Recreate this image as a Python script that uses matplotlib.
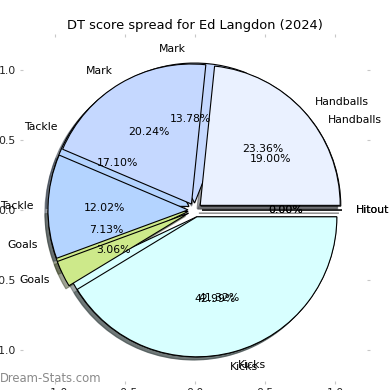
import matplotlib
matplotlib.use("Agg")
import matplotlib.pyplot as plt

# DT score components, share of total (%)
labels = ['Hitout', 'Handballs', 'Mark', 'Tackle', 'Goals', 'Kicks']
spread_under = [0.00, 19.00, 13.78, 17.10, 7.13, 42.99]
spread_over = [0.00, 23.36, 20.24, 12.02, 3.06, 41.32]
colors = ['#f2f2f2', '#eaf1ff', '#c5d8ff', '#b4d4ff', '#cde98a', '#d8ffff']
ticks = [-1.0, -0.5, 0.0, 0.5, 1.0]

fs = 7.8
plt.rcParams['font.size'] = fs

fig = plt.figure(figsize=(3.9, 3.9), dpi=100)
ax = fig.add_axes([23 / 390, 9 / 390, 344 / 390, 344 / 390])

# Pie parameters shared by both pies
pieParams = {'labels': labels,
             'colors': colors,
             'autopct': '%1.2f%%',
             'explode': [0.05] * len(labels),
             'shadow': {'ox': -0.016, 'oy': -0.016},
             'frame': True,
             'wedgeprops': {'edgecolor': 'black', 'linewidth': 0.8},
             'textprops': {'fontsize': fs}}

ax.pie(spread_under, **pieParams)
ax.pie(spread_over, **pieParams)

ax.set_aspect('auto')
ax.set_xlim(-1.2286, 1.2286)
ax.set_ylim(-1.221, 1.236)
ax.set_xticks(ticks)
ax.set_yticks(ticks)
for s in ax.spines.values():
    s.set_visible(False)
ax.tick_params(direction='out', length=2.5, width=0.8, color='#c8c8c8',
               top=True, right=True, labelsize=fs, pad=2.7, labelcolor='#222222')

fig.text(0.5, 1 - 25 / 390, 'DT score spread for Ed Langdon (2024)',
         ha='center', va='center', fontsize=9.4)
fig.text(0.0, 1 - 379 / 390, 'Dream-Stats.com', ha='left', va='center',
         fontsize=8.4, color='#8a8a8a')

fig.savefig('out.png', dpi=100)
